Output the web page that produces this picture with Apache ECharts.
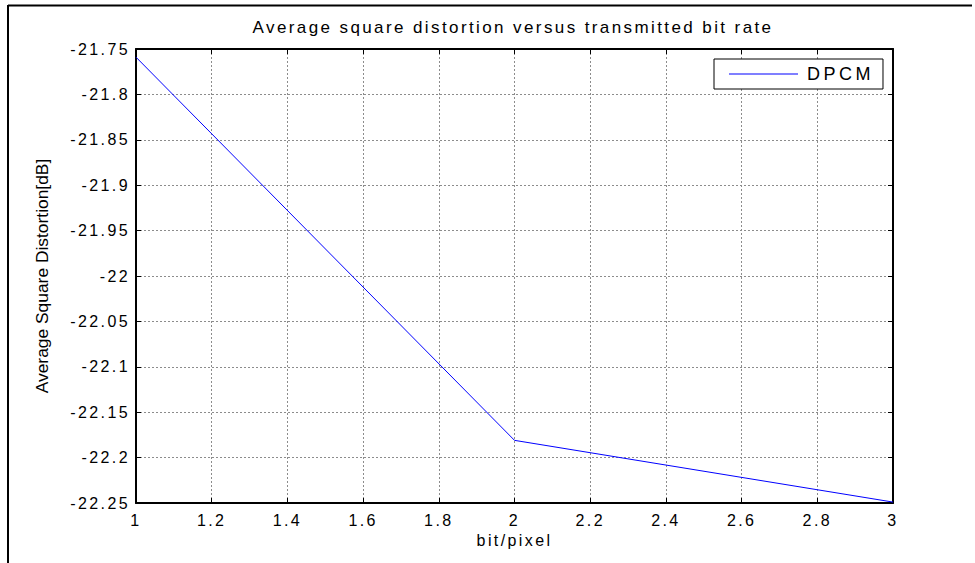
<!DOCTYPE html>
<html>
<head>
<meta charset="utf-8">
<script src="https://cdn.jsdelivr.net/npm/echarts@6/dist/echarts.min.js"></script>
<style>
html, body { margin: 0; padding: 0; background: #fff; }
#chart { width: 975px; height: 563px; }
#chart svg text { letter-spacing: 2.4px; }
#chart svg text[style*="17.4px"] { letter-spacing: 0; }
#chart svg text[style*="18px"] { letter-spacing: 3.5px; }
</style>
</head>
<body>
<div id="chart"></div>
<script>
const titleText = 'Average square distortion versus transmitted bit rate';
const xName = 'bit/pixel';
const yName = 'Average Square Distortion[dB]';
const seriesName = 'DPCM';
const bitRate = [1, 2, 3];
const distortion = [-21.759, -22.181, -22.249];
const xMin = 1, xMax = 3, xStep = 0.2;
const yMin = -22.25, yMax = -21.75, yStep = 0.05;

const FONT = 'Liberation Sans, Arial, sans-serif';
const fmt = v => String(Math.round(v * 100) / 100);

const chart = echarts.init(document.getElementById('chart'), null, { renderer: 'svg', width: 975, height: 563 });

const tickStyle = { show: true, inside: true, length: 5, lineStyle: { color: '#000', width: 1 } };
const axisLineStyle = { show: true, onZero: false, lineStyle: { color: '#000', width: 2 } };
const gridLine = { show: true, lineStyle: { color: '#8c8c8c', width: 1, type: [2, 2] } };

chart.setOption({
  animation: false,
  backgroundColor: '#fff',
  title: {
    text: titleText,
    left: 513,
    top: 19,
    textAlign: 'center',
    padding: 0,
    textStyle: { fontFamily: FONT, fontSize: 17, fontWeight: 'normal', color: '#000' }
  },
  legend: {
    data: [{ name: seriesName, icon: 'rect' }],
    left: 714,
    top: 59,
    orient: 'horizontal',
    itemWidth: 69,
    itemHeight: 1,
    padding: [5, 23, 5, 15],
    borderColor: '#000',
    borderWidth: 1,
    backgroundColor: '#fff',
    textStyle: { fontFamily: FONT, fontSize: 18, color: '#000', lineHeight: 20, padding: [0, 0, 0, 4] }
  },
  grid: { left: 136, right: 82, top: 49, bottom: 60, containLabel: false },
  xAxis: [
    {
      type: 'value', min: xMin, max: xMax, interval: xStep,
      position: 'bottom',
      name: xName, nameLocation: 'middle', nameGap: 20,
      nameTextStyle: { fontFamily: FONT, fontSize: 16, color: '#000' },
      axisLine: axisLineStyle, axisTick: tickStyle,
      axisLabel: { show: true, margin: 9, fontFamily: FONT, fontSize: 16, color: '#000', formatter: fmt },
      splitLine: gridLine
    },
    {
      type: 'value', min: xMin, max: xMax, interval: xStep,
      position: 'top',
      axisLine: axisLineStyle, axisTick: tickStyle,
      axisLabel: { show: false }, splitLine: { show: false }
    }
  ],
  yAxis: [
    {
      type: 'value', min: yMin, max: yMax, interval: yStep,
      position: 'left',
      name: yName, nameLocation: 'middle', nameGap: 86, nameRotate: 90,
      nameTextStyle: { fontFamily: FONT, fontSize: 17.4, color: '#000' },
      axisLine: axisLineStyle, axisTick: tickStyle,
      axisLabel: { show: true, margin: 6, fontFamily: FONT, fontSize: 16, color: '#000', formatter: fmt },
      splitLine: gridLine
    },
    {
      type: 'value', min: yMin, max: yMax, interval: yStep,
      position: 'right',
      axisLine: axisLineStyle, axisTick: tickStyle,
      axisLabel: { show: false }, splitLine: { show: false }
    }
  ],
  series: [
    {
      name: seriesName,
      type: 'line',
      xAxisIndex: 0, yAxisIndex: 0,
      data: bitRate.map((x, i) => [x, distortion[i]]),
      showSymbol: false,
      symbol: 'none',
      lineStyle: { color: '#0000ff', width: 1 },
      itemStyle: { color: '#0000ff' }
    }
  ],
  graphic: [
    { type: 'line', shape: { x1: 8, y1: 5.5, x2: 972, y2: 5.5 }, style: { stroke: '#000', lineWidth: 2 }, silent: true },
    { type: 'line', shape: { x1: 8, y1: 5, x2: 8, y2: 563 }, style: { stroke: '#000', lineWidth: 2 }, silent: true }
  ]
});
</script>
</body>
</html>
